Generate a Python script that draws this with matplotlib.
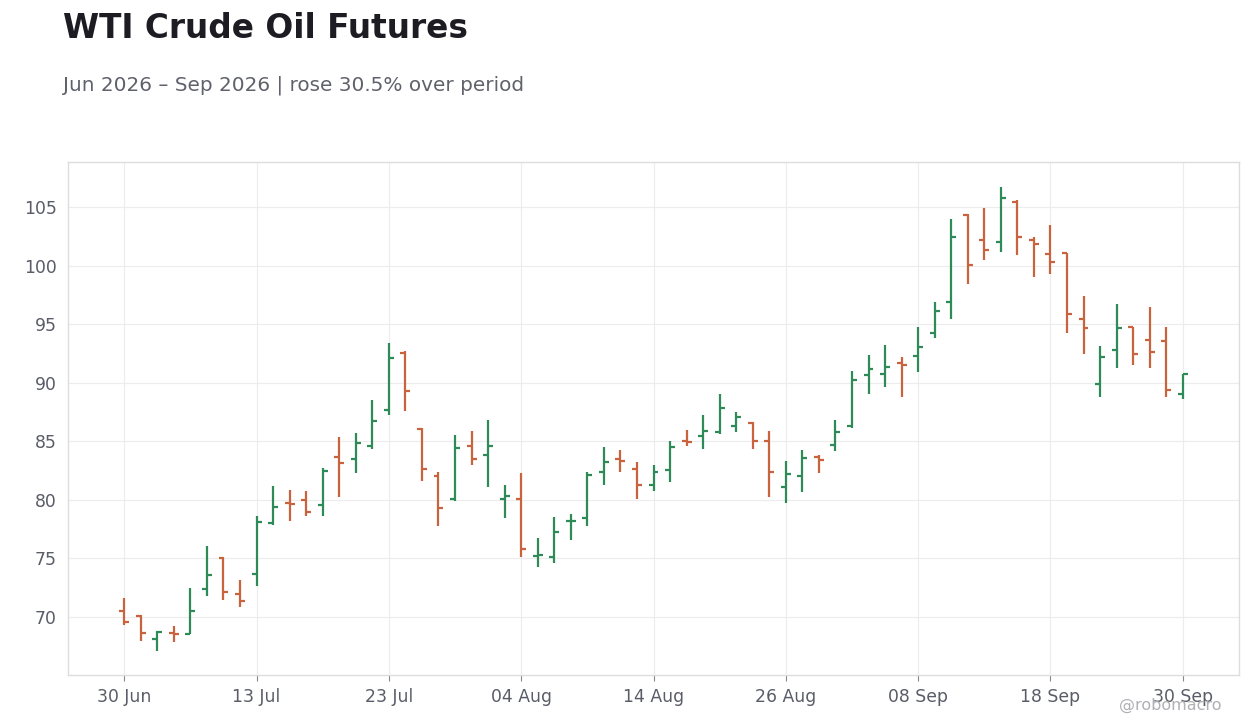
import matplotlib
matplotlib.use("Agg")
import matplotlib.pyplot as plt
import numpy as np
import pandas as pd

opens = [70.48, 70.06, 68.09, 68.66, 68.58, 72.42, 75.01, 71.94, 73.70, 78.02,
         79.72, 79.97, 79.55, 83.70, 83.45, 84.63, 87.68, 92.51, 86.07, 82.01,
         80.06, 84.63, 83.87, 80.06, 80.06, 75.22, 75.14, 78.17, 78.46, 82.37,
         83.47, 82.68, 81.28, 82.58, 85.04, 85.47, 85.81, 86.32, 86.60, 85.04,
         81.12, 82.05, 83.69, 84.72, 86.34, 90.65, 90.77, 91.70, 92.27, 94.28,
         96.86, 104.36, 102.18, 102.04, 105.44, 102.21, 101.03, 101.05, 95.43, 89.89,
         92.78, 94.74, 93.66, 93.55, 89.03]
highs = [71.65, 70.17, 68.83, 69.26, 72.50, 76.09, 75.15, 73.19, 78.59, 81.21,
         80.88, 80.79, 82.74, 85.37, 85.71, 88.50, 93.42, 92.74, 86.10, 82.40,
         85.54, 85.88, 86.81, 81.30, 82.33, 76.73, 78.54, 78.77, 82.34, 84.55,
         84.29, 83.27, 82.95, 85.01, 85.95, 87.22, 89.01, 87.48, 86.62, 85.86,
         83.33, 84.26, 83.84, 86.82, 90.99, 92.36, 93.21, 92.19, 94.72, 96.91,
         103.97, 104.40, 104.90, 106.71, 105.58, 102.41, 103.46, 101.08, 97.44, 93.10,
         96.76, 94.76, 96.51, 94.72, 90.74]
lows = [69.29, 67.92, 67.10, 67.84, 68.52, 71.76, 71.48, 70.83, 72.68, 77.85,
        78.19, 78.62, 78.62, 80.23, 82.26, 84.38, 87.26, 87.60, 81.58, 77.77,
        79.89, 82.94, 81.07, 78.45, 75.14, 74.29, 74.63, 76.56, 77.78, 81.26,
        82.34, 80.07, 80.77, 81.56, 84.62, 84.36, 85.64, 85.81, 84.36, 80.28,
        79.70, 80.71, 82.33, 84.20, 86.16, 89.06, 89.66, 88.81, 90.92, 93.80,
        95.41, 98.47, 100.51, 101.19, 100.93, 99.07, 99.25, 94.23, 92.44, 88.78,
        91.25, 91.51, 91.25, 88.78, 88.61]
closes = [69.54, 68.61, 68.69, 68.58, 70.48, 73.56, 72.11, 71.39, 78.11, 79.38,
          79.63, 78.95, 82.43, 83.19, 84.89, 86.75, 92.09, 89.27, 82.60, 79.29,
          84.46, 83.53, 84.63, 80.31, 75.82, 75.26, 77.27, 78.22, 82.11, 83.22,
          83.30, 81.26, 82.39, 84.53, 84.93, 85.89, 87.85, 87.08, 85.01, 82.41,
          82.24, 83.61, 83.41, 85.82, 90.26, 91.14, 91.36, 91.53, 93.05, 96.09,
          102.46, 100.06, 101.33, 105.78, 102.46, 101.87, 100.35, 95.85, 94.66, 92.19,
          94.66, 92.44, 92.61, 89.35, 90.74]

holidays = ["2026-07-03", "2026-09-07"]
dates = [d for d in pd.bdate_range("2026-06-30", "2026-09-30") if d.strftime("%Y-%m-%d") not in holidays]
y_ticks = [70, 75, 80, 85, 90, 95, 100, 105]

UP = "#2e8b57"
DOWN = "#c9633d"

fig = plt.figure(figsize=(12.6, 7.28), dpi=100)
fig.patch.set_facecolor("white")
ax = fig.add_axes([68/1260, 1-675/728, (1239-68)/1260, (675-162)/728])

x = np.arange(len(opens))
o = np.array(opens); h = np.array(highs); l = np.array(lows); c = np.array(closes)
cols = [UP if cc >= oo else DOWN for oo, cc in zip(o, c)]
ax.vlines(x, l, h, colors=cols, linewidth=1.6, zorder=3)
ax.hlines(o, x - 0.3, x, colors=cols, linewidth=1.6, zorder=3)
ax.hlines(c, x, x + 0.3, colors=cols, linewidth=1.6, zorder=3)

ax.set_xlim(-3.4, len(x) - 1 + 3.4)
ax.set_ylim(65.05, 108.85)
ax.set_yticks(y_ticks)
xt = list(range(0, len(x), 8))
ax.set_xticks(xt)
ax.set_xticklabels([dates[i].strftime("%d %b") for i in xt])

ax.grid(True, color="#ececec", linewidth=0.8, zorder=0)
ax.set_axisbelow(True)
for s in ax.spines.values():
    s.set_color("#dddddd")
    s.set_linewidth(1.0)
ax.tick_params(colors="#5a5d68", labelsize=12.4, length=4, width=0.8)
ax.tick_params(axis="both", color="#888888")
ax.tick_params(axis="x", pad=5)
ax.tick_params(axis="y", length=0, pad=8)

fig.text(63/1260, 1-29/728, "WTI Crude Oil Futures", fontsize=23.6, fontweight="bold",
         color="#1c1c22", ha="left", va="center")
fig.text(63/1260, 1-85/728, "Jun 2026 \u2013 Sep 2026 | rose 30.5% over period", fontsize=14.4,
         color="#5f616b", ha="left", va="center")
fig.text(1170/1260, 1-705/728, "@robomacro", fontsize=11.5, color="#b0b0b5", ha="center", va="center")

fig.savefig("out.png", dpi=100, facecolor="white")
